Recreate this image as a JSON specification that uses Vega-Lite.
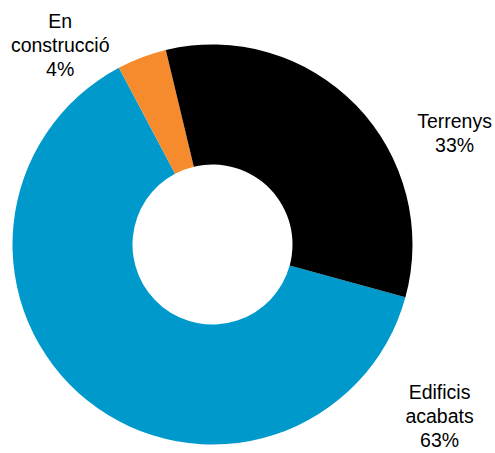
{
  "$schema": "https://vega.github.io/schema/vega-lite/v6.json",
  "width": 425,
  "height": 417,
  "autosize": {"type": "none"},
  "padding": {"left": 0, "top": 36, "right": 70, "bottom": 0},
  "background": "white",
  "view": {"stroke": null},
  "config": {"text": {"font": "Liberation Sans", "fontSize": 19.5, "lineHeight": 24, "lineBreak": "\n"}},
  "data": {
    "values": [
      {"category": "Edificis acabats", "value": 63, "label": "Edificis\nacabats\n63%"},
      {"category": "En construcció", "value": 4, "label": "En\nconstrucció\n4%"},
      {"category": "Terrenys", "value": 33, "label": "Terrenys\n33%"}
    ]
  },
  "transform": [
    {"stack": "value", "groupby": [], "sort": [{"field": "category", "order": "ascending"}], "as": ["v0", "v1"]}
  ],
  "layer": [
    {"mark": {"type": "arc", "outerRadius": 200, "innerRadius": 80, "stroke": null},
     "encoding": {
       "theta": {"field": "v0", "type": "quantitative", "scale": {"domain": [0, 100], "range": [1.8378, 8.1210]}},
       "theta2": {"field": "v1"},
       "color": {"field": "category", "type": "nominal", "legend": null, "scale": {"domain": ["Edificis acabats", "En construcció", "Terrenys"], "range": ["#0099cc", "#f68b2e", "#000000"]}}
     }},
    {"transform": [{"filter": "datum.category == 'Terrenys'"}],
     "mark": {"type": "text", "radius": 266, "thetaOffset": 1.379, "align": "center", "baseline": "middle", "dy": -12, "color": "black"},
     "encoding": {"theta": {"field": "v0", "type": "quantitative"}, "text": {"field": "label"}}},
    {"transform": [{"filter": "datum.category == 'Edificis acabats'"}],
     "mark": {"type": "text", "radius": 285, "thetaOffset": 0.382, "align": "center", "baseline": "middle", "dy": -24, "color": "black"},
     "encoding": {"theta": {"field": "v0", "type": "quantitative"}, "text": {"field": "label"}}},
    {"transform": [{"filter": "datum.category == 'En construcció'"}],
     "mark": {"type": "text", "radius": 250, "thetaOffset": -0.168, "align": "center", "baseline": "middle", "dy": -24, "color": "black"},
     "encoding": {"theta": {"field": "v0", "type": "quantitative"}, "text": {"field": "label"}}}
  ]
}
